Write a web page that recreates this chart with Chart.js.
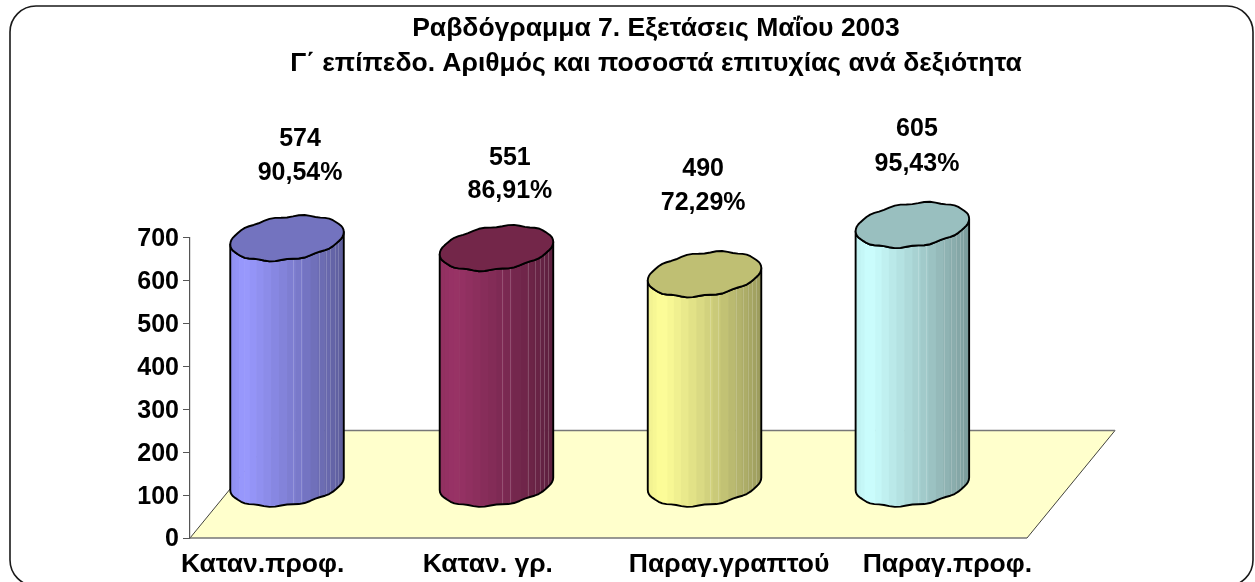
<!DOCTYPE html>
<html>
<head>
<meta charset="utf-8">
<script src="https://cdn.jsdelivr.net/npm/chart.js@4"></script>
<style>
  body { margin: 0; background: #fff; }
</style>
</head>
<body>
<canvas id="barChart" width="1255" height="582"></canvas>
<script>
// chart data
var titleLines = ['Ραβδόγραμμα 7. Εξετάσεις Μαΐου 2003', 'Γ΄ επίπεδο. Αριθμός και ποσοστά επιτυχίας ανά δεξιότητα'];
var skills = ['Καταν.προφ.', 'Καταν. γρ.', 'Παραγ.γραπτού', 'Παραγ.προφ.'];
var passCounts = [574, 551, 490, 605];
var passRates = ['90,54%', '86,91%', '72,29%', '95,43%'];

// colours: side light, side dark, top
var sideLight = ['#9999ff', '#993366', '#ffff99', '#ccffff'];
var sideDark = ['#5c5c99', '#5c1f3d', '#99995c', '#7a9999'];
var topColor = ['#7373bf', '#732649', '#bfbf73', '#99bfbf'];

// layout tweaks
var fontName = '"Liberation Sans", Arial, sans-serif';
var floorDx = 88, floorDy = 107.5;
var barShiftX = [-7.6, -7.4, -8.6, -10];
var tickNudge = [-32, -16, 16, 25];
var labelNudgeX = [5.4, 6, -10, -5.4];
var labelTopGap = [99.2, 90, 105, 96];
var labelLineGap = [34.5, 33.5, 34, 35];

function hexToRgb(hex) {
    return [parseInt(hex.substr(1, 2), 16), parseInt(hex.substr(3, 2), 16), parseInt(hex.substr(5, 2), 16)];
}

function mixColor(a, b, t) {
    var c1 = hexToRgb(a), c2 = hexToRgb(b);
    return 'rgb(' + c1.map(function (v, i) { return Math.round(v + (c2[i] - v) * t); }).join(',') + ')';
}

// ellipse ends are slightly lumpy in the original, a small ripple gives the same look
function ellipsePoint(cx, cy, a, t) {
    var b = a * 0.38, s = a * 0.11;
    var px = cx + a * Math.cos(t);
    var py = cy + b * Math.sin(t) - s * Math.cos(t) + 0.8 * Math.sin(11 * t) * Math.abs(Math.sin(t));
    return [px, py];
}

function traceRing(ctx, cx, cy, a, from, to, first) {
    var steps = Math.round(Math.abs(to - from) / (Math.PI / 30));
    for (var i = 0; i <= steps; i++) {
        var t = from + (to - from) * i / steps;
        var p = ellipsePoint(cx, cy, a, t);
        if (i === 0 && first) ctx.moveTo(p[0], p[1]); else ctx.lineTo(p[0], p[1]);
    }
}

function drawCylinder(ctx, bar, i) {
    var cx = bar.x + barShiftX[i], a = bar.width / 2;
    var shift = floorDy / 2;
    var topY = bar.y - shift, baseY = bar.base - shift;

    // outline of the side
    function sidePath() {
        ctx.beginPath();
        traceRing(ctx, cx, topY, a, Math.PI, 0, true);
        traceRing(ctx, cx, baseY, a, 0, Math.PI, false);
        ctx.closePath();
    }

    ctx.save();
    sidePath();
    ctx.clip();
    // facets get narrower towards the right side
    var facets = 22;
    for (var f = 0; f < facets; f++) {
        var x0 = cx - a * Math.cos(Math.PI * f / facets);
        var x1 = cx - a * Math.cos(Math.PI * (f + 1) / facets);
        var pos = (x0 - (cx - a)) / (2 * a);
        var shade = pos < 0.1 ? (0.1 - pos) * 1.5 : (pos - 0.1) / 0.9;
        ctx.fillStyle = mixColor(sideLight[i], sideDark[i], shade);
        ctx.fillRect(x0, topY - a, x1 - x0 + 0.6, baseY - topY + 2 * a);
    }
    // pale seams between the facets
    ctx.strokeStyle = 'rgba(255,255,255,0.18)';
    ctx.lineWidth = 1;
    [0.55, 0.62, 0.78, 0.84, 0.88, 0.92, 0.95].forEach(function (p) {
        var sx = Math.round(cx - a + 2 * a * p) + 0.5;
        ctx.beginPath();
        ctx.moveTo(sx, topY - a);
        ctx.lineTo(sx, baseY + a);
        ctx.stroke();
    });
    ctx.restore();

    ctx.strokeStyle = '#000';
    ctx.lineWidth = 1.9;
    ctx.lineJoin = 'round';
    sidePath();
    ctx.stroke();

    ctx.beginPath();
    traceRing(ctx, cx, topY, a, 0, 2 * Math.PI, true);
    ctx.closePath();
    ctx.fillStyle = topColor[i];
    ctx.fill();
    ctx.stroke();
}

var cylinderPlugin = {
    id: 'cylinders',
    afterLayout: function (chart) {
        // title is centred a bit right of the canvas middle
        chart.titleBlock.left = 57;
        chart.titleBlock.right = 1255;
    },
    beforeDraw: function (chart) {
        var ctx = chart.ctx;
        // outer rounded frame
        ctx.save();
        ctx.fillStyle = '#fff';
        ctx.fillRect(0, 0, chart.width, chart.height);
        ctx.strokeStyle = '#1a1a1a';
        ctx.lineWidth = 1.6;
        ctx.beginPath();
        ctx.roundRect(10, 6, 1243, 580, 26);
        ctx.stroke();

        // floor of the chart
        var area = chart.chartArea;
        ctx.beginPath();
        ctx.moveTo(area.left, area.bottom);
        ctx.lineTo(area.right, area.bottom);
        ctx.lineTo(area.right + floorDx, area.bottom - floorDy);
        ctx.lineTo(area.left + floorDx, area.bottom - floorDy);
        ctx.closePath();
        ctx.fillStyle = '#ffffcc';
        ctx.fill();
        ctx.strokeStyle = '#111';
        ctx.lineWidth = 0.8;
        ctx.beginPath();
        ctx.moveTo(area.left, area.bottom);
        ctx.lineTo(area.left + floorDx, area.bottom - floorDy);
        ctx.moveTo(area.right, area.bottom);
        ctx.lineTo(area.right + floorDx, area.bottom - floorDy);
        ctx.stroke();
        ctx.strokeStyle = '#777';
        ctx.lineWidth = 1.5;
        ctx.beginPath();
        ctx.moveTo(area.left, area.bottom);
        ctx.lineTo(area.right, area.bottom);
        ctx.moveTo(area.left + floorDx, area.bottom - floorDy);
        ctx.lineTo(area.right + floorDx, area.bottom - floorDy);
        ctx.stroke();
        ctx.restore();

        // move the tick labels to where the original has them
        chart.scales.x.getLabelItems().forEach(function (item, i) {
            item.options.translation[0] += tickNudge[i];
        });
        chart.scales.y.getLabelItems().forEach(function (item) {
            item.options.translation[1] += 1.5;
        });
    },
    afterDatasetsDraw: function (chart) {
        var ctx = chart.ctx;
        var bars = chart.getDatasetMeta(0).data;
        ctx.save();
        bars.forEach(function (bar, i) {
            drawCylinder(ctx, bar, i);
        });
        // two line value labels above each cylinder
        ctx.fillStyle = '#000';
        ctx.font = 'bold 25px ' + fontName;
        ctx.textAlign = 'center';
        ctx.textBaseline = 'middle';
        bars.forEach(function (bar, i) {
            var lx = bar.x + labelNudgeX[i];
            var ly = bar.y - floorDy / 2 - labelTopGap[i];
            ctx.fillText(String(passCounts[i]), lx, ly);
            ctx.fillText(passRates[i], lx, ly + labelLineGap[i]);
        });
        ctx.restore();
    }
};

var ctx = document.getElementById('barChart').getContext('2d');

var barChart = new Chart(ctx, {
    type: 'bar',
    data: {
        labels: skills,
        datasets: [
            {
                label: 'Αριθμός επιτυχόντων',
                data: passCounts,
                backgroundColor: 'rgba(0,0,0,0)',
                barPercentage: 0.5425,
                categoryPercentage: 1
            }
        ]
    },
    options: {
        responsive: false,
        animation: false,
        layout: { padding: { left: 0, right: 228, top: 0, bottom: 0 } },
        plugins: {
            legend: { display: false },
            tooltip: { enabled: false },
            title: {
                display: true,
                text: titleLines,
                color: '#000',
                font: { family: fontName, size: 26.5, weight: 'bold', lineHeight: 1.32 },
                padding: { top: 11, bottom: 157 }
            }
        },
        scales: {
            x: {
                grid: { display: false },
                border: { display: false },
                ticks: { color: '#000', font: { family: fontName, size: 26.5, weight: 'bold' }, padding: 3, maxRotation: 0, autoSkip: false },
                afterFit: function (scale) { scale.height = 44; }
            },
            y: {
                min: 0,
                max: 700,
                grid: { drawOnChartArea: false, color: '#555', tickLength: 7 },
                border: { color: '#555', width: 1.2 },
                ticks: { stepSize: 100, color: '#000', font: { family: fontName, size: 25, weight: 'bold' }, padding: 4 },
                afterFit: function (scale) { scale.width = 190; }
            }
        }
    },
    plugins: [cylinderPlugin]
});
</script>
</body>
</html>
